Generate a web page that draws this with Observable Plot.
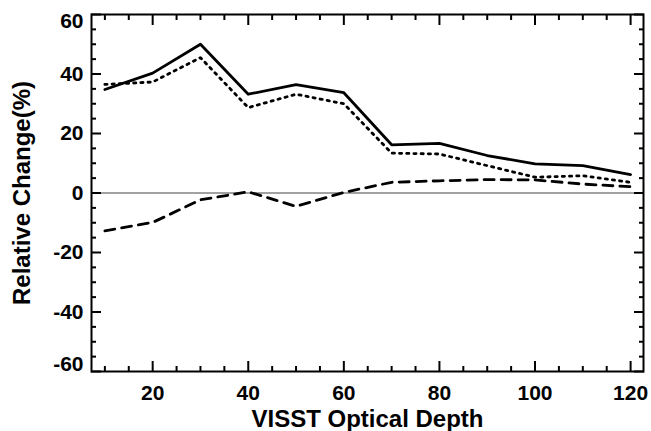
<!DOCTYPE html>
<html>
<head>
<meta charset="utf-8">
<script src="https://cdn.jsdelivr.net/npm/d3@7"></script>
<script src="https://cdn.jsdelivr.net/npm/@observablehq/plot@0.6"></script>
<style>
  html, body { margin: 0; padding: 0; background: #fff; }
</style>
</head>
<body>
<div id="chart"></div>
<script>
const depth = [10, 20, 30, 40, 50, 60, 70, 80, 90, 100, 110, 120];
const solid = [34.8, 40.3, 50.0, 33.2, 36.4, 33.7, 16.2, 16.7, 12.6, 9.8, 9.2, 6.2];
const dotted = [36.5, 37.3, 45.5, 28.7, 33.2, 30.0, 13.4, 13.1, 9.2, 5.3, 5.8, 3.6];
const dashed = [-12.7, -9.9, -2.3, 0.4, -4.5, 0.2, 3.6, 4.1, 4.5, 4.4, 3.0, 2.1];
const xTicks = [20, 40, 60, 80, 100, 120];
const yTicksInner = [-40, -20, 0, 20, 40];
const xMajor = [20, 40, 60, 80, 100, 120];
const xMinor = d3.range(10, 121, 5).filter(v => v % 20 !== 0);
const yMajor = [-60, -40, -20, 0, 20, 40, 60];
const yMinor = d3.range(-55, 56, 5).filter(v => v % 20 !== 0);

const rows = (ys) => depth.map((x, i) => ({x, y: ys[i]}));

const blank = () => "";
const plain = d => String(d);
const tickFont = {fontSize: 21, fontWeight: "bold"};
const titleFont = {fontSize: 24, fontWeight: "bold"};

const chart = Plot.plot({
  width: 651,
  height: 431,
  marginLeft: 91,
  marginRight: 8,
  marginTop: 14,
  marginBottom: 60,
  style: {fontFamily: "Liberation Sans, Arial, sans-serif", background: "#fff", color: "#000"},
  x: {domain: [7.2, 122.7]},
  y: {domain: [-60, 60]},
  marks: [
    Plot.ruleY([0], {stroke: "#444", strokeWidth: 1}),
    Plot.line(rows(solid), {x: "x", y: "y", stroke: "#000", strokeWidth: 2.8}),
    Plot.line(rows(dotted), {x: "x", y: "y", stroke: "#000", strokeWidth: 2.8, strokeDasharray: "2.2,5"}),
    Plot.line(rows(dashed), {x: "x", y: "y", stroke: "#000", strokeWidth: 2.8, strokeDasharray: "10,7"}),
    // inward ticks, four sides
    Plot.axisX(xMajor, {anchor: "bottom", tickSize: 10, dy: -10, tickFormat: blank, label: null, strokeWidth: 2}),
    Plot.axisX(xMinor, {anchor: "bottom", tickSize: 5, dy: -5, tickFormat: blank, label: null, strokeWidth: 2}),
    Plot.axisX(xMajor, {anchor: "top", tickSize: 10, dy: 10, tickFormat: blank, label: null, strokeWidth: 2}),
    Plot.axisX(xMinor, {anchor: "top", tickSize: 5, dy: 5, tickFormat: blank, label: null, strokeWidth: 2}),
    Plot.axisY(yMajor, {anchor: "left", tickSize: 10, dx: 10, tickFormat: blank, label: null, strokeWidth: 2}),
    Plot.axisY(yMinor, {anchor: "left", tickSize: 5, dx: 5, tickFormat: blank, label: null, strokeWidth: 2}),
    Plot.axisY(yMajor, {anchor: "right", tickSize: 10, dx: -10, tickFormat: blank, label: null, strokeWidth: 2}),
    Plot.axisY(yMinor, {anchor: "right", tickSize: 5, dx: -5, tickFormat: blank, label: null, strokeWidth: 2}),
    // tick labels
    Plot.axisX(xTicks, {anchor: "bottom", tickSize: 0, tickPadding: 14, tickFormat: plain, ...tickFont, label: null}),
    Plot.axisY(yTicksInner, {anchor: "left", tickSize: 0, tickPadding: 8, tickFormat: plain, ...tickFont, label: null}),
    Plot.axisY([60], {anchor: "left", tickSize: 0, tickPadding: 8, dy: 7, tickFormat: plain, ...tickFont, label: null}),
    Plot.axisY([-60], {anchor: "left", tickSize: 0, tickPadding: 8, dy: -7, tickFormat: plain, ...tickFont, label: null}),
    // axis titles
    Plot.axisX([], {anchor: "bottom", tickSize: 0, tickFormat: blank, ...titleFont,
      label: "VISST Optical Depth", labelAnchor: "center", labelOffset: 55, labelArrow: "none"}),
    Plot.axisY([], {anchor: "left", tickSize: 0, tickFormat: blank, ...titleFont,
      label: "Relative Change(%)", labelAnchor: "center", labelOffset: 79, labelArrow: "none"}),
    Plot.frame({stroke: "#000", strokeWidth: 2})
  ]
});
document.getElementById("chart").appendChild(chart);
</script>
</body>
</html>
